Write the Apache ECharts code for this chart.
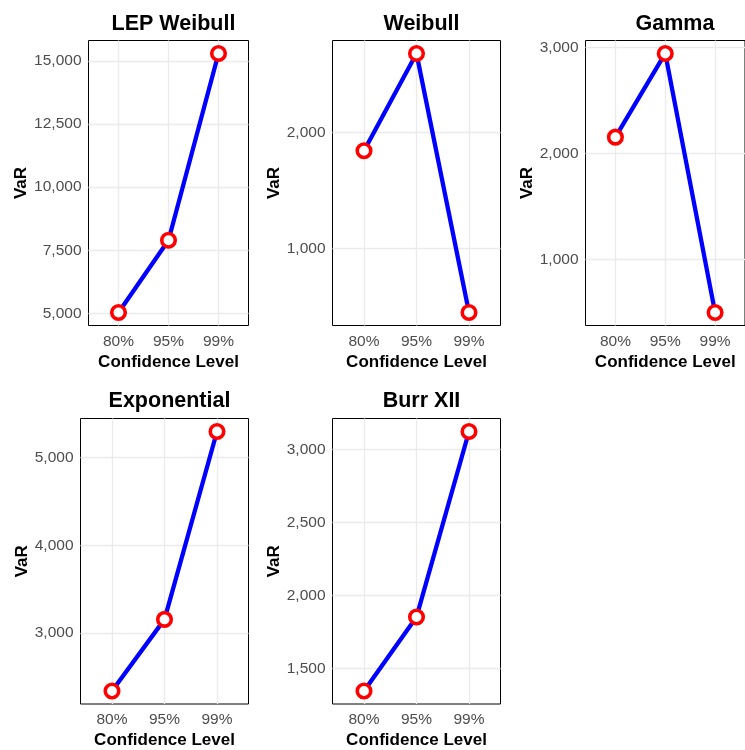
<!DOCTYPE html>
<html>
<head>
<meta charset="utf-8">
<script src="https://cdn.jsdelivr.net/npm/echarts@6/dist/echarts.min.js"></script>
<style>
html,body{margin:0;padding:0;background:#fff;}
#chart{width:745px;height:750px;}
</style>
</head>
<body>
<div id="chart"></div>
<script>
// ---- data ----
const categories = ['80%', '95%', '99%'];
const panelTitles = ['LEP Weibull', 'Weibull', 'Gamma', 'Exponential', 'Burr XII'];
const lepWeibull = [5030, 7897, 15304];
const weibull = [1844, 2686, 444];
const gamma = [2154, 2943, 501];
const exponential = [2340, 3156, 5296];
const burrXII = [1347, 1854, 3123];
const ticksLepWeibull = [5000, 7500, 10000, 12500, 15000];
const ticksWeibull = [1000, 2000];
const ticksGamma = [1000, 2000, 3000];
const ticksExponential = [3000, 4000, 5000];
const ticksBurrXII = [1500, 2000, 2500, 3000];

const seriesValues = [lepWeibull, weibull, gamma, exponential, burrXII];
const tickValues = [ticksLepWeibull, ticksWeibull, ticksGamma, ticksExponential, ticksBurrXII];

// ---- layout ----
const layouts = [
  {left: 88.5, top: 40.5, width: 160, height: 285, titleTop: 8, nameGap: 58},
  {left: 332.5, top: 40.5, width: 168, height: 285, titleTop: 8, nameGap: 50},
  {left: 585.5, top: 40.5, width: 169, height: 285, titleTop: 8, nameGap: 50},
  {left: 80.5, top: 418.5, width: 168, height: 286, titleTop: 385, nameGap: 50},
  {left: 332.5, top: 418.5, width: 168, height: 286, titleTop: 385, nameGap: 50}
];

const FONT = '"Liberation Sans", Arial, Helvetica, sans-serif';
const catIdx = categories.map((c, i) => i);

function expand(arr) {
  const lo = Math.min(...arr), hi = Math.max(...arr);
  const d = (hi - lo) * 0.05;
  return [lo - d, hi + d];
}

const grids = [], xAxes = [], yAxes = [], series = [], titles = [];
layouts.forEach((L, k) => {
  grids.push({
    left: L.left, top: L.top, width: L.width, height: L.height,
    show: true, borderColor: '#000', borderWidth: 1, backgroundColor: 'transparent',
    containLabel: false
  });
  titles.push({
    text: panelTitles[k],
    left: L.left + L.width / 2,
    top: L.titleTop,
    textAlign: 'center',
    textStyle: {fontFamily: FONT, fontSize: 21.5, fontWeight: 'bold', color: '#000'}
  });
  xAxes.push({
    type: 'value', gridIndex: k, min: -0.6, max: 2.6,
    axisLine: {show: false},
    axisTick: {show: false, customValues: catIdx},
    axisLabel: {
      customValues: catIdx, margin: 8,
      fontFamily: FONT, fontSize: 15.5, color: '#4D4D4D',
      formatter: v => categories[Math.round(v)]
    },
    splitLine: {show: true, lineStyle: {color: '#EBEBEB', width: 1.3}},
    name: 'Confidence Level', nameLocation: 'middle', nameGap: 28,
    nameTextStyle: {fontFamily: FONT, fontSize: 17, fontWeight: 'bold', color: '#000'}
  });
  const ext = expand(seriesValues[k]);
  yAxes.push({
    type: 'value', gridIndex: k, min: ext[0], max: ext[1],
    axisLine: {show: false},
    axisTick: {show: false, customValues: tickValues[k]},
    axisLabel: {
      customValues: tickValues[k], margin: 7,
      fontFamily: FONT, fontSize: 15.5, color: '#4D4D4D',
      formatter: v => Math.round(v).toLocaleString('en-US')
    },
    splitLine: {show: true, lineStyle: {color: '#EBEBEB', width: 1.3}},
    name: 'VaR', nameLocation: 'middle', nameGap: L.nameGap, nameRotate: 90,
    nameTextStyle: {fontFamily: FONT, fontSize: 17, fontWeight: 'bold', color: '#000'}
  });
  series.push({
    type: 'line', xAxisIndex: k, yAxisIndex: k,
    data: seriesValues[k].map((v, i) => [catIdx[i], v]),
    symbol: 'circle', symbolSize: 13.5,
    itemStyle: {color: '#fff', borderColor: '#FF0000', borderWidth: 3.6},
    lineStyle: {color: '#0000FF', width: 4.3},
    emphasis: {disabled: true},
    z: 3
  });
});

const chart = echarts.init(document.getElementById('chart'), null, {renderer: 'canvas'});
chart.setOption({
  backgroundColor: '#fff',
  animation: false,
  title: titles,
  grid: grids,
  xAxis: xAxes,
  yAxis: yAxes,
  series: series
});
</script>
</body>
</html>
